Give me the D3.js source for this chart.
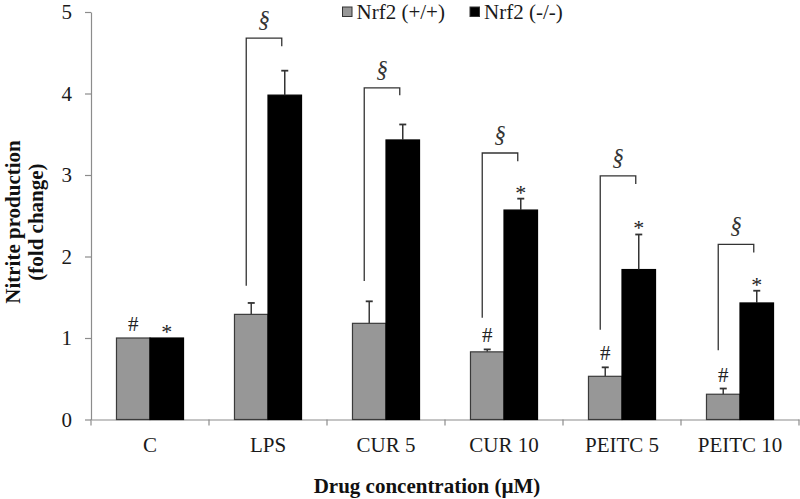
<!DOCTYPE html>
<html>
<head>
<meta charset="utf-8">
<script src="https://cdn.jsdelivr.net/npm/d3@7"></script>
<style>
  body { margin: 0; background: #fff; }
  svg { display: block; }
  text { font-family: "Liberation Serif", "Times New Roman", serif; }
</style>
</head>
<body>
<svg id="chart" width="800" height="499"></svg>
<script>
// ---- data ----
const categories = ["C", "LPS", "CUR 5", "CUR 10", "PEITC 5", "PEITC 10"];
const seriesNames = ["Nrf2 (+/+)", "Nrf2 (-/-)"];
const wtValues = [1.0, 1.29, 1.18, 0.83, 0.53, 0.31];
const wtErrors = [0, 0.14, 0.27, 0.03, 0.11, 0.07];
const koValues = [1.0, 3.98, 3.43, 2.57, 1.84, 1.43];
const koErrors = [0, 0.30, 0.19, 0.14, 0.43, 0.15];
const wtMarks = ["#", "", "", "#", "#", "#"];
const koMarks = ["*", "", "", "*", "*", "*"];
const bracketCats = ["LPS", "CUR 5", "CUR 10", "PEITC 5", "PEITC 10"];
const bracketTop = [4.68, 4.07, 3.27, 2.99, 2.15];
const bracketLeftEnd = [1.64, 1.70, 1.25, 1.10, 0.85];
const bracketRightEnd = [4.58, 3.98, 3.17, 2.89, 2.05];
const yTicks = [0, 1, 2, 3, 4, 5];

const colors = ["#979797", "#000000"];

// ---- layout ----
const svg = d3.select("#chart");
const margin = { left: 91, right: 1, top: 12, bottom: 79.5 };
const W = 800, H = 499;
const plotBottom = H - margin.bottom;

const x = d3.scaleBand().domain(categories).range([margin.left, W - margin.right]).padding(0);
const x1 = d3.scaleBand().domain(seriesNames).range([0, x.bandwidth()]).paddingInner(0).paddingOuter(0.76);
const y = d3.scaleLinear().domain([0, 5]).range([plotBottom, margin.top]);

svg.append("rect").attr("width", W).attr("height", H).attr("fill", "#fff");

// y axis
const yAxis = svg.append("g")
  .attr("transform", `translate(${margin.left},0)`)
  .call(d3.axisLeft(y).tickValues(yTicks).tickSize(6).tickSizeOuter(0).tickPadding(13).tickFormat(d3.format("d")));
yAxis.select(".domain").attr("stroke", "#8c8c8c").attr("stroke-width", 1.2);
yAxis.selectAll(".tick line").attr("stroke", "#8c8c8c").attr("stroke-width", 1.2);
yAxis.selectAll(".tick text").attr("font-size", 21).attr("fill", "#1a1a1a")
  .style("font-family", "'Liberation Serif', serif");

// x axis
const xAxis = svg.append("g")
  .attr("transform", `translate(0,${plotBottom})`)
  .call(d3.axisBottom(x).tickSize(0).tickSizeOuter(0).tickPadding(18));
xAxis.select(".domain").attr("stroke", "#8c8c8c").attr("stroke-width", 1.2);
xAxis.selectAll(".tick text").attr("font-size", 21).attr("fill", "#1a1a1a")
  .style("font-family", "'Liberation Serif', serif");
// category boundary ticks
const boundaries = categories.map(c => x(c)).concat([x.range()[1]]);
xAxis.selectAll(".bound").data(boundaries).enter().append("line")
  .attr("x1", d => d).attr("x2", d => d).attr("y1", 0).attr("y2", 6)
  .attr("stroke", "#8c8c8c").attr("stroke-width", 1.2);

// bars
const rows = categories.map((c, i) => ({
  cat: c,
  vals: [
    { s: seriesNames[0], v: wtValues[i], e: wtErrors[i], m: wtMarks[i], k: 0 },
    { s: seriesNames[1], v: koValues[i], e: koErrors[i], m: koMarks[i], k: 1 }
  ]
}));

const groups = svg.append("g").selectAll("g").data(rows).enter().append("g")
  .attr("transform", d => `translate(${x(d.cat)},0)`);

groups.selectAll("rect").data(d => d.vals).enter().append("rect")
  .attr("x", d => x1(d.s))
  .attr("width", x1.bandwidth())
  .attr("y", d => y(d.v))
  .attr("height", d => y(0) - y(d.v))
  .attr("fill", d => colors[d.k])
  .attr("stroke", d => d.k === 0 ? "#3a3a3a" : "#000")
  .attr("stroke-width", 1.2);

// error bars (upper only)
const eb = groups.selectAll("g.err").data(d => d.vals.filter(v => v.e > 0)).enter().append("g").attr("class", "err");
eb.append("line")
  .attr("x1", d => x1(d.s) + x1.bandwidth() / 2).attr("x2", d => x1(d.s) + x1.bandwidth() / 2)
  .attr("y1", d => y(d.v)).attr("y2", d => y(d.v + d.e))
  .attr("stroke", d => d.k === 0 ? "#3a3a3a" : "#333").attr("stroke-width", 1.5);
eb.append("line")
  .attr("x1", d => x1(d.s) + x1.bandwidth() / 2 - 3.5).attr("x2", d => x1(d.s) + x1.bandwidth() / 2 + 3.5)
  .attr("y1", d => y(d.v + d.e)).attr("y2", d => y(d.v + d.e))
  .attr("stroke", "#333").attr("stroke-width", 1.8);

// significance marks
groups.selectAll("text.mark").data(d => d.vals.filter(v => v.m)).enter().append("text")
  .attr("class", "mark")
  .attr("x", d => x1(d.s) + x1.bandwidth() / 2)
  .attr("y", d => d.m === "#" ? y(d.v + d.e) - 7 : y(d.v + d.e) + 1)
  .attr("text-anchor", "middle")
  .attr("font-size", d => d.m === "#" ? 21 : 22)
  .attr("fill", "#222")
  .text(d => d.m);

// brackets
const bdata = bracketCats.map((c, i) => ({ cat: c, top: bracketTop[i], l: bracketLeftEnd[i], r: bracketRightEnd[i] }));
const bg = svg.append("g").selectAll("g").data(bdata).enter().append("g")
  .attr("transform", d => `translate(${x(d.cat)},0)`);
const lx = x1(seriesNames[0]) + x1.bandwidth() / 2 - 5;
const rx = x1(seriesNames[1]) + x1.bandwidth() / 2 - 3;
bg.append("path")
  .attr("d", d => `M${lx},${y(d.l)}V${y(d.top)}H${rx}V${y(d.r)}`)
  .attr("fill", "none").attr("stroke", "#333").attr("stroke-width", 1.3);
bg.append("text")
  .attr("x", (lx + rx) / 2)
  .attr("y", d => y(d.top) - 11)
  .attr("text-anchor", "middle")
  .attr("font-size", 23)
  .attr("font-style", "italic")
  .attr("fill", "#333")
  .text("§");

// axis titles
svg.append("text")
  .attr("transform", "translate(20,222) rotate(-90)")
  .attr("text-anchor", "middle")
  .attr("font-size", 21).attr("font-weight", "bold").attr("fill", "#111")
  .text("Nitrite production");
svg.append("text")
  .attr("transform", "translate(43,222) rotate(-90)")
  .attr("text-anchor", "middle")
  .attr("font-size", 21).attr("font-weight", "bold").attr("fill", "#111")
  .text("(fold change)");
svg.append("text")
  .attr("x", 427).attr("y", 493)
  .attr("text-anchor", "middle")
  .attr("font-size", 21).attr("font-weight", "bold").attr("fill", "#111")
  .text("Drug concentration (µM)");

// legend
const leg = svg.append("g");
const legX = [342.5, 470];
seriesNames.forEach((s, i) => {
  const g = leg.append("g").attr("transform", `translate(${legX[i]},7)`);
  g.append("rect").attr("width", 9.5).attr("height", 9.5)
    .attr("fill", colors[i]).attr("stroke", "#333").attr("stroke-width", 1);
  g.append("text").attr("x", 14).attr("y", 11.5)
    .attr("font-size", 21).attr("fill", "#1a1a1a").text(s);
});
</script>
</body>
</html>
